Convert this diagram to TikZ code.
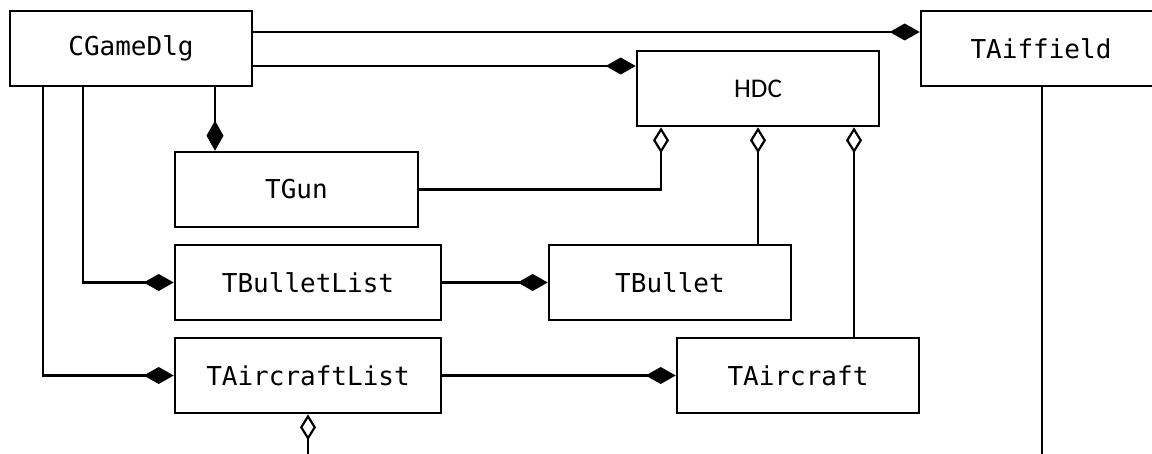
\documentclass[tikz,border=0pt]{standalone}
\usepackage{fontspec}
\setmonofont{DejaVu Sans Mono}
\newfontfamily\hdcfont{Carlito}
\usetikzlibrary{arrows.meta}
\begin{document}
\begin{tikzpicture}[x=1pt,y=-1pt,
  cls/.style={draw,line width=2.6pt,minimum height=75pt,inner sep=0pt,
    font=\ttfamily\fontsize{26}{30}\selectfont},
  link/.style={line width=2.2pt},
  comp/.style={link,-{Diamond[length=30pt,width=17pt]}},
  aggr/.style={link,{Diamond[open,length=26pt,width=16pt]}-}]
\clip (0,0) rectangle (1152,454);
\useasboundingbox (0,0) rectangle (1152,454);

% classes
\node[cls,minimum width=242pt] (dlg)    at (131,48.5)  {CGameDlg};
\node[cls,minimum width=240pt] (field)  at (1041,48.5) {TAiffield};
\node[cls,minimum width=242pt,font=\hdcfont\fontsize{27}{30}\selectfont] (hdc) at (758,88.5) {HDC};
\node[cls,minimum width=243pt] (gun)    at (296.5,189.5) {TGun};
\node[cls,minimum width=266pt] (blist)  at (308,282.5) {TBulletList};
\node[cls,minimum width=242pt] (bullet) at (670,282.5) {TBullet};
\node[cls,minimum width=266pt] (alist)  at (308,375.5) {TAircraftList};
\node[cls,minimum width=242pt] (craft)  at (798,375.5) {TAircraft};

% free ends running off the bottom
\coordinate (alistEnd) at (308,470);
\coordinate (fieldEnd) at (1042,470);

% compositions
\draw[comp] (dlg.east |- 0,32) -- (field.west |- 0,32);
\draw[comp] (dlg.east |- 0,66) -- (hdc.west |- 0,66);
\draw[comp] (dlg.south -| 215,0) -- (gun.north -| 215,0);
\draw[comp] (dlg.south -| 83,0) |- (blist.west);
\draw[comp] (dlg.south -| 43,0) |- (alist.west);
\draw[comp] (blist.east) -- (bullet.west);
\draw[comp] (alist.east) -- (craft.west);

% aggregations
\draw[aggr] (hdc.south -| 661,0) |- (gun.east);
\draw[aggr] (hdc.south) -- (bullet.north -| hdc.south);
\draw[aggr] (hdc.south -| 854,0) -- (craft.north -| 854,0);
\draw[aggr] (alist.south) -- (alistEnd);

% plain association
\draw[link] (field.south -| fieldEnd) -- (fieldEnd);
\end{tikzpicture}
\end{document}
